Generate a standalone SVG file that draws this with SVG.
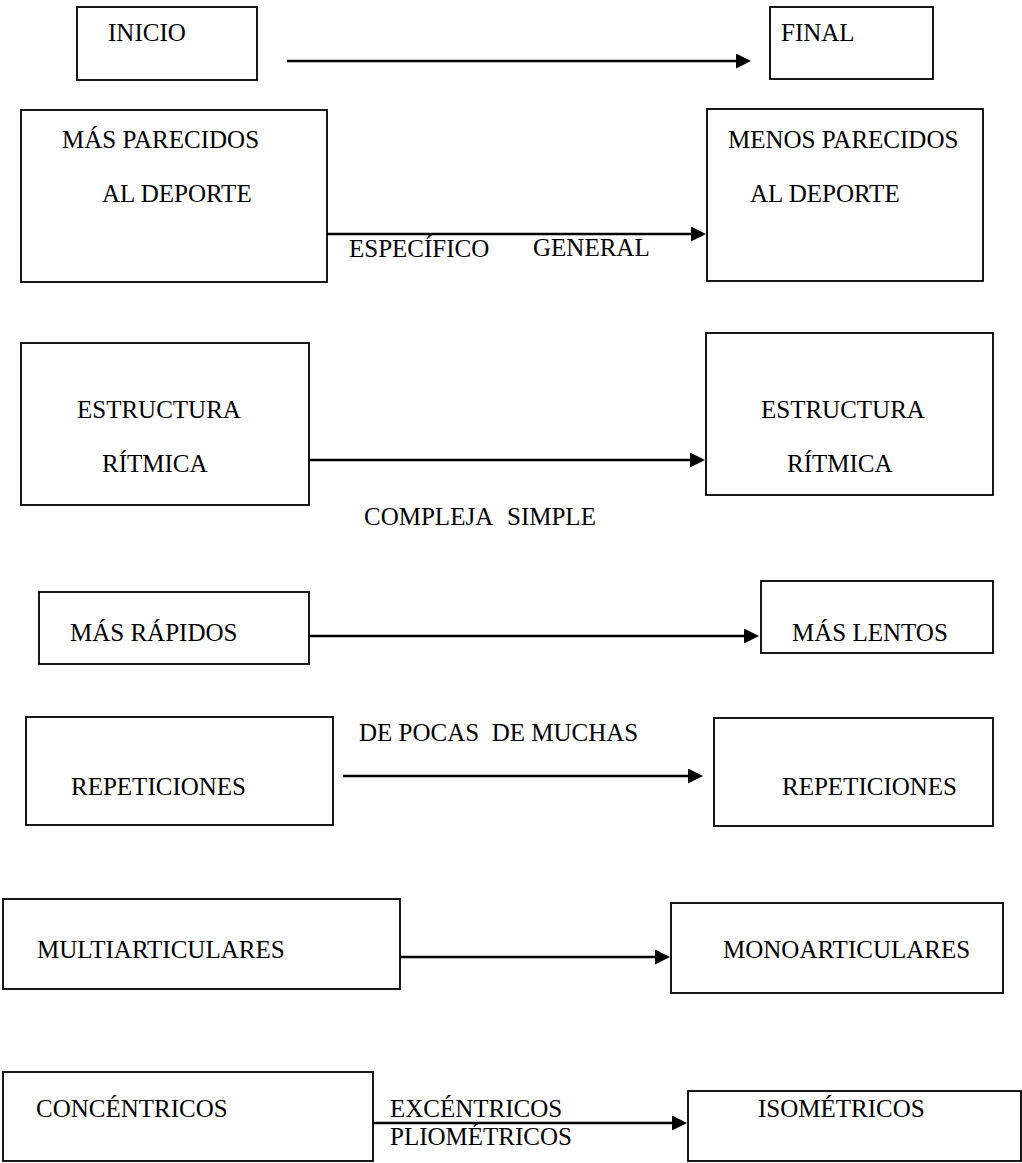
<svg xmlns="http://www.w3.org/2000/svg" width="1022" height="1163" viewBox="0 0 1022 1163">
<style>
.box{fill:#fff;stroke:#000;stroke-width:1.8}
.t{font-family:"Liberation Serif","Times New Roman","DejaVu Serif",serif;font-size:25px;fill:#000}
.c{stroke:#000;stroke-width:2.4;fill:none;marker-end:url(#ah)}
</style>
<defs>
<marker id="ah" markerUnits="userSpaceOnUse" markerWidth="18" markerHeight="18" refX="2" refY="7.5" orient="auto">
<path d="M0,0 L15,7.5 L0,15 z" fill="#000"/>
</marker>
</defs>
<rect width="1022" height="1163" fill="#fff"/>
<g id="connectors">
<line class="c" x1="287" y1="61" x2="738" y2="61"/>
<line class="c" x1="327" y1="234" x2="693" y2="234"/>
<line class="c" x1="308" y1="460" x2="692" y2="460"/>
<line class="c" x1="309" y1="636" x2="746" y2="636"/>
<line class="c" x1="343" y1="776" x2="690" y2="776"/>
<line class="c" x1="400" y1="957" x2="657" y2="957"/>
<line class="c" x1="373" y1="1123" x2="674" y2="1123"/>
</g>
<g id="labels">
<text class="t" x="349" y="257">ESPECÍFICO</text>
<text class="t" x="533" y="256">GENERAL</text>
<text class="t" x="364" y="525">COMPLEJA</text>
<text class="t" x="507" y="525">SIMPLE</text>
<text class="t" x="359" y="741" xml:space="preserve">DE POCAS  DE MUCHAS</text>
<text class="t" x="390" y="1117">EXCÉNTRICOS</text>
<text class="t" x="390" y="1145">PLIOMÉTRICOS</text>
</g>
<g id="n-inicio"><rect class="box" x="77" y="7" width="180" height="73"/><text class="t" x="108" y="41">INICIO</text></g>
<g id="n-final"><rect class="box" x="770" y="7" width="163" height="72"/><text class="t" x="781" y="41">FINAL</text></g>
<g id="n-mas-parecidos"><rect class="box" x="21" y="110" width="306" height="172"/><text class="t" x="62" y="148">MÁS PARECIDOS</text><text class="t" x="102" y="202">AL DEPORTE</text></g>
<g id="n-menos-parecidos"><rect class="box" x="707" y="109" width="276" height="172"/><text class="t" x="728" y="148">MENOS PARECIDOS</text><text class="t" x="750" y="202">AL DEPORTE</text></g>
<g id="n-estructura-1"><rect class="box" x="21" y="343" width="288" height="162"/><text class="t" x="77" y="418">ESTRUCTURA</text><text class="t" x="102" y="472">RÍTMICA</text></g>
<g id="n-estructura-2"><rect class="box" x="706" y="333" width="287" height="162"/><text class="t" x="761" y="418">ESTRUCTURA</text><text class="t" x="787" y="472">RÍTMICA</text></g>
<g id="n-mas-rapidos"><rect class="box" x="39" y="592" width="270" height="72"/><text class="t" x="70" y="641">MÁS RÁPIDOS</text></g>
<g id="n-mas-lentos"><rect class="box" x="761" y="581" width="232" height="72"/><text class="t" x="792" y="641">MÁS LENTOS</text></g>
<g id="n-repeticiones-1"><rect class="box" x="26" y="717" width="307" height="108"/><text class="t" x="71" y="795">REPETICIONES</text></g>
<g id="n-repeticiones-2"><rect class="box" x="714" y="718" width="279" height="108"/><text class="t" x="782" y="795">REPETICIONES</text></g>
<g id="n-multi"><rect class="box" x="3" y="899" width="397" height="90"/><text class="t" x="37" y="958">MULTIARTICULARES</text></g>
<g id="n-mono"><rect class="box" x="671" y="903" width="332" height="90"/><text class="t" x="723" y="958">MONOARTICULARES</text></g>
<g id="n-concentricos"><rect class="box" x="3" y="1072" width="370" height="89"/><text class="t" x="36" y="1117">CONCÉNTRICOS</text></g>
<g id="n-isometricos"><rect class="box" x="688" y="1091" width="333" height="70"/><text class="t" x="758" y="1117">ISOMÉTRICOS</text></g>
</svg>
